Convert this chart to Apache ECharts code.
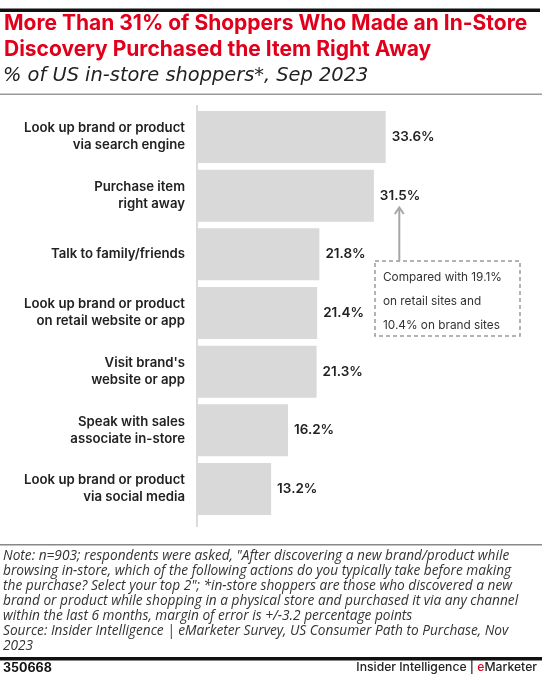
<!DOCTYPE html>
<html>
<head>
<meta charset="utf-8">
<script src="https://cdn.jsdelivr.net/npm/echarts@6/dist/echarts.min.js"></script>
<style>
html,body{margin:0;padding:0;background:#fff;}
#c{width:543px;height:680px;}
</style>
</head>
<body>
<div id="c"></div>
<script>
const titleText = 'More Than 31% of Shoppers Who Made an In-Store\nDiscovery Purchased the Item Right Away';
const subtitleText = '% of US in-store shoppers*, Sep 2023';
const categories = [
  'Look up brand or product\nvia search engine',
  'Purchase item\nright away',
  'Talk to family/friends',
  'Look up brand or product\non retail website or app',
  "Visit brand's\nwebsite or app",
  'Speak with sales\nassociate in-store',
  'Look up brand or product\nvia social media'
];
const values = [33.6, 31.5, 21.8, 21.4, 21.3, 16.2, 13.2];
const annotationLines = ['Compared with 19.1%', 'on retail sites and', '10.4% on brand sites'];
const noteLines = [
  'Note: n=903; respondents were asked, "After discovering a new brand/product while',
  'browsing in-store, which of the following actions do you typically take before making',
  'the purchase? Select your top 2"; *in-store shoppers are those who discovered a new',
  'brand or product while shopping in a physical store and purchased it via any channel',
  'within the last 6 months, margin of error is +/-3.2 percentage points',
  'Source: Insider Intelligence | eMarketer Survey, US Consumer Path to Purchase, Nov',
  '2023'
];
const chartId = '350668';

const chart = echarts.init(document.getElementById('c'), null, {renderer: 'canvas'});
const SANS = 'Inter, Roboto, "Noto Sans", sans-serif';

chart.setOption({
  backgroundColor: '#fff',
  animation: false,
  title: [
    {text: titleText, left: 4, top: 10.5, padding: 0,
     textStyle: {color: '#e1001c', fontFamily: SANS, fontWeight: 700, fontSize: 21, lineHeight: 26}},
    {text: subtitleText, left: 3, top: 62, padding: 0,
     textStyle: {color: '#222', fontFamily: '"DejaVu Sans", sans-serif', fontStyle: 'italic', fontWeight: 400, fontSize: 19.4, lineHeight: 28}}
  ],
  grid: {left: 197, top: 107.67, height: 410.67, width: 280.75, containLabel: false},
  xAxis: {type: 'value', min: 0, max: 50, show: false},
  yAxis: {
    type: 'category', data: categories, inverse: true,
    axisLine: {show: false}, axisTick: {show: false},
    axisLabel: {margin: 12, color: '#222', fontFamily: SANS, fontWeight: 600, fontSize: 13.2, lineHeight: 17, align: 'right'}
  },
  series: [{
    type: 'bar', data: values, barCategoryGap: '11.4%',
    itemStyle: {color: '#d9d9d9'},
    label: {show: true, position: 'right', distance: 6, formatter: '{c}%',
      color: '#222', fontFamily: SANS, fontWeight: 600, fontSize: 13.5}
  }],
  graphic: [
    {type: 'rect', shape: {x: 0, y: 8.5, width: 540, height: 3.5}, style: {fill: '#111'}},
    {type: 'rect', shape: {x: 0, y: 93.5, width: 542, height: 1.5}, style: {fill: '#9a9a9a'}},
    {type: 'line', shape: {x1: 197, y1: 105, x2: 197, y2: 527}, style: {stroke: '#cfcfcf', lineWidth: 1.5}},
    // annotation
    {type: 'rect', shape: {x: 375, y: 261, width: 145, height: 75},
     style: {fill: 'none', stroke: '#9a9a9a', lineWidth: 1.5, lineDash: [4, 3]}},
    {type: 'line', shape: {x1: 399.3, y1: 261, x2: 399.3, y2: 208}, style: {stroke: '#a6a6a6', lineWidth: 2}},
    {type: 'polyline', shape: {points: [[394.8, 214], [399.3, 207.5], [403.8, 214]]},
     style: {fill: 'none', stroke: '#a6a6a6', lineWidth: 2}},
    {type: 'text', left: 383, top: 265,
     style: {text: annotationLines.join('\n'), fill: '#333', font: '400 11.8px Inter, Roboto, sans-serif', lineHeight: 24.3}},
    // note
    {type: 'rect', shape: {x: 0, y: 544, width: 542, height: 1.5}, style: {fill: '#888'}},
    {type: 'text', left: 3, top: 548.2,
     style: {text: noteLines.join('\n'), fill: '#333', font: 'italic 400 13.7px "Open Sans", "Noto Sans", sans-serif', lineHeight: 15}},
    {type: 'rect', shape: {x: 0, y: 657, width: 542, height: 3.5}, style: {fill: '#111'}},
    {type: 'text', left: 3, top: 661.5,
     style: {text: chartId, fill: '#111', font: '700 12.5px Inter, Roboto, sans-serif'}},
    {type: 'text', right: 6, top: 661.5,
     style: {text: '{a|Insider Intelligence | }{r|e}{a|Marketer}',
       rich: {a: {fill: '#222', font: '500 12.2px Inter, Roboto, sans-serif'},
              r: {fill: '#e1001c', font: '500 12.2px Inter, Roboto, sans-serif'}}}}
  ]
});
</script>
</body>
</html>
